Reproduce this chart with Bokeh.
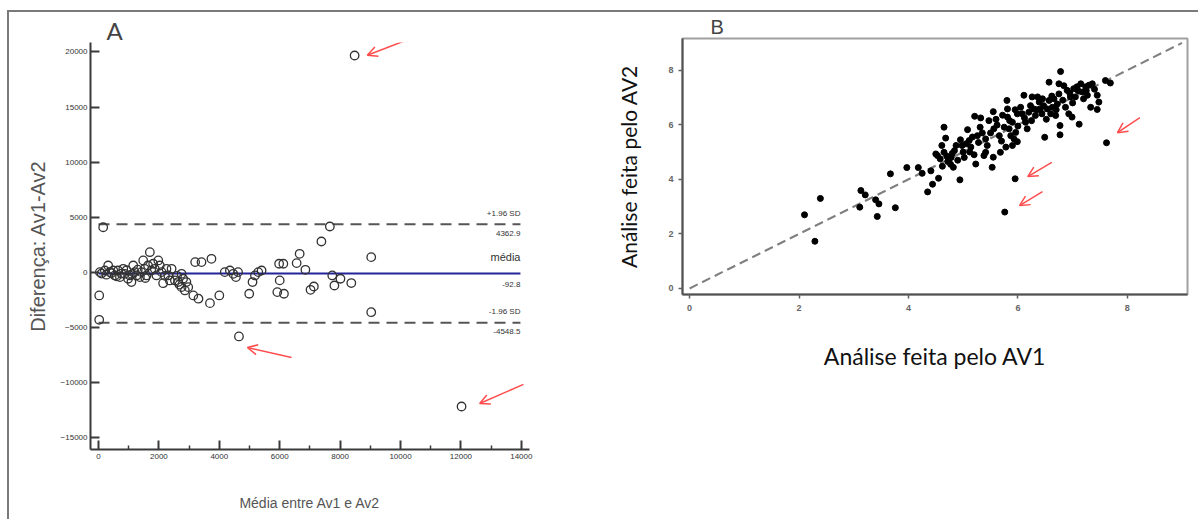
from bokeh.plotting import figure
from bokeh.layouts import row, column
from bokeh.models import Range1d, FixedTicker, Arrow, OpenHead
from bokeh.core.properties import value
from bokeh.embed import file_html
from bokeh.resources import INLINE

# ---------------- Panel A (Bland-Altman) data ----------------
media_av = [155, 23, 23, 45, 210, 320, 370, 490, 540, 650, 710, 820, 870, 980, 1040, 1090,
            1150, 1200, 1260, 1370, 1420, 1480, 1530, 1590, 1640, 1700, 1750, 1810, 1860,
            1920, 1980, 2030, 2090, 2140, 2250, 2310, 2360, 2420, 2530, 2640, 2750, 2800,
            2750, 2860, 2910, 2970, 3140, 3310, 3200, 3410, 3690, 3740, 4000, 4180, 4350,
            4460, 4550, 4620, 4650, 4990, 5100, 5180, 5290, 5400, 5920, 5980, 6000, 6120,
            6140, 6560, 6660, 6850, 7020, 7130, 7380, 7660, 7740, 7810, 8010, 8370, 9030,
            9030, 8480, 12020, 100, 260, 430, 600, 760, 930, 1110, 1300, 1550, 2200, 2600, 2680]
diferenca = [4100, -2080, -4290, 30, 180, 630, 30, 180, -270, 180, -420, 330, -120, -570, -270,
             -870, 630, 30, -270, -420, 30, 1090, 330, -270, 630, 1840, 180, 790, 330, -270,
             1090, 630, 30, -970, 330, -270, -720, 330, -720, -870, -120, -570, -1330, -1630,
             -870, -1330, -2080, -2380, 940, 940, -2780, 1240, -2080, 30, 180, -120, -420, 30,
             -5800, -1930, -870, -270, 30, 180, -1780, 790, -720, 790, -1930, 850, 1690, 240,
             -1570, -1270, 2810, 4170, -270, -1180, -570, -960, 1390, -3600, 19670, -12150,
             -100, -200, -50, -350, -100, 200, -150, 250, -500, -300, -300, -1100]
media_dif = -92.8
lim_sup = 4362.9
lim_inf = -4548.5
linha_x = [0, 13970]
a_xticks = [0, 2000, 4000, 6000, 8000, 10000, 12000, 14000]
a_xminor = [1000, 3000, 5000, 7000, 9000, 11000, 13000]
a_yticks = [-15000, -10000, -5000, 0, 5000, 10000, 15000, 20000]
# arrows (tail x, tail y, head x, head y) in data units
a_arrows = [(10330, 21200, 8900, 19700), (6390, -7710, 4930, -6800), (14070, -10150, 12620, -11880)]

# ---------------- Panel B (AV1 vs AV2) data ----------------
av1 = [2.10, 2.39, 2.29, 3.13, 3.21, 3.11, 3.40, 3.46, 3.43, 3.67, 3.76, 3.97, 4.18, 4.25, 4.41,
       4.44, 4.35, 4.55, 4.62, 4.82, 4.94,
       4.50, 4.65, 4.68, 4.61, 4.65, 4.70, 4.74, 4.78, 4.72, 4.80, 4.84, 4.53, 4.77, 4.87, 4.98,
       5.08, 5.11, 5.14, 5.20, 5.23, 5.21, 5.32, 5.31, 5.26, 5.35, 5.41, 5.44, 5.41, 5.38, 5.53,
       5.55, 5.68, 5.47, 5.55, 5.56, 5.62, 5.66, 5.75, 5.81, 5.81, 5.84, 5.87, 5.90, 5.93, 5.96,
       5.99, 5.99, 5.90, 5.80, 5.78, 6.05, 6.08, 6.11, 6.14, 6.17, 6.20, 6.23, 6.26, 6.29, 6.32,
       6.36, 6.39, 6.41, 6.44, 6.47, 6.49, 6.54, 6.57, 6.60, 6.63, 6.66, 6.69, 6.72, 6.75, 6.77,
       6.77, 6.78, 6.57, 6.75, 6.84, 6.87, 6.90, 6.93, 6.96, 6.99, 7.02, 7.05, 7.08, 7.12, 7.15,
       7.18, 7.20, 7.24, 7.27, 7.33, 7.36, 7.45, 7.45, 7.48, 7.60, 7.69, 7.62, 5.95, 5.76,
       5.00, 5.05, 5.17, 5.28, 5.50, 5.60, 5.70, 5.72, 5.85, 5.95, 6.00, 6.12, 6.25, 6.35, 6.45,
       6.52, 6.62, 6.70, 6.82, 6.95, 7.00, 7.10, 7.25, 7.30, 7.40, 4.58, 4.90, 4.95, 5.02, 5.12]
av2 = [2.70, 3.30, 1.73, 3.59, 3.43, 2.98, 3.25, 3.10, 2.64, 4.20, 2.96, 4.43, 4.43, 4.22, 4.31,
       3.82, 3.54, 4.04, 4.48, 4.44, 3.98,
       4.93, 5.91, 5.51, 5.24, 4.99, 4.85, 4.75, 4.80, 4.65, 4.95, 5.05, 4.87, 4.55, 5.24, 5.24,
       5.82, 5.42, 5.18, 4.90, 4.56, 6.31, 6.25, 5.91, 5.60, 5.70, 5.48, 5.24, 4.99, 4.87, 4.44,
       4.81, 4.99, 6.15, 6.48, 5.85, 5.99, 5.60, 5.91, 6.58, 6.28, 5.85, 5.60, 6.09, 5.48, 5.72,
       5.38, 6.40, 5.24, 6.89, 5.18, 6.64, 6.40, 7.08, 6.09, 5.85, 6.46, 6.70, 7.02, 6.58, 6.34,
       7.02, 6.83, 6.58, 6.40, 6.70, 5.54, 6.58, 6.89, 6.40, 6.64, 6.95, 6.34, 6.76, 7.13, 5.97,
       5.63, 7.95, 7.56, 7.50, 7.43, 6.64, 7.26, 6.40, 7.02, 6.28, 7.32, 7.02, 7.39, 6.02, 7.50,
       7.20, 6.95, 7.39, 7.08, 6.64, 7.50, 7.08, 6.56, 6.83, 7.62, 7.53, 5.34, 4.02, 2.80,
       5.00, 5.30, 5.55, 5.35, 5.70, 6.20, 5.40, 6.35, 6.15, 6.55, 5.95, 6.25, 6.15, 6.55, 6.95,
       6.20, 7.05, 6.55, 6.90, 7.15, 6.80, 7.25, 7.25, 7.45, 7.30, 4.75, 4.70, 5.45, 4.80, 5.00]
ident = [0, 9.0]
b_ticks = [0, 2, 4, 6, 8]
b_arrows = [(8.23, 6.26, 7.82, 5.71), (6.62, 4.62, 6.18, 4.10), (6.45, 3.55, 6.03, 3.04)]

RED = "#ff4d4d"
GRAY_TXT = "#555555"
SANS = "Liberation Sans"

# ================= Panel A =================
pA = figure(width=591, height=507, output_backend="svg", toolbar_location=None,
            x_range=Range1d(-265, 14270), y_range=Range1d(-16050, 20850),
            min_border_left=81, min_border_right=71, min_border_top=30, min_border_bottom=70)
pA.outline_line_color = None
pA.grid.grid_line_color = None

pA.xaxis.ticker = FixedTicker(ticks=a_xticks, minor_ticks=a_xminor)
pA.yaxis.ticker = FixedTicker(ticks=a_yticks, minor_ticks=[])
for ax in (pA.xaxis[0], pA.yaxis[0]):
    ax.axis_line_color = "#3a3a3a"
    ax.axis_line_width = 2
    ax.major_tick_line_color = "#3a3a3a"
    ax.major_tick_line_width = 2
    ax.major_tick_in = 9
    ax.major_tick_out = 0
    ax.minor_tick_line_color = "#3a3a3a"
    ax.minor_tick_line_width = 1.5
    ax.minor_tick_in = 4
    ax.minor_tick_out = 0
    ax.major_label_text_font = SANS
    ax.major_label_text_font_size = "8px"
    ax.major_label_text_color = "#333333"
    ax.axis_label_text_font = SANS
    ax.axis_label_text_font_style = "normal"
    ax.axis_label_text_color = GRAY_TXT
pA.yaxis.axis_label_text_font_size = "20px"
pA.xaxis.axis_label_text_font_size = "14px"
pA.yaxis.major_label_standoff = 3
pA.xaxis.major_label_standoff = 4
pA.yaxis.axis_label = "Diferença: Av1-Av2"
pA.xaxis.axis_label = "Média entre Av1 e Av2"
pA.yaxis.axis_label_standoff = 9
pA.xaxis.axis_label_standoff = 33

pA.title.text = "A"
pA.title.text_font = "Lato"
pA.title.text_font_style = "normal"
pA.title.text_font_size = "24px"
pA.title.align = "left"
pA.title.offset = 16
pA.title.standoff = -4

pA.line(linha_x, [lim_sup, lim_sup], line_color="#555555", line_width=2, line_dash="11 7")
pA.line(linha_x, [lim_inf, lim_inf], line_color="#555555", line_width=2, line_dash="11 7")
pA.line(linha_x, [media_dif, media_dif], line_color="#23239a", line_width=2)
pA.scatter(media_av, diferenca, size=8.5, marker="circle", fill_color=None,
           line_color="#333333", line_width=1.3)

lab_x = linha_x[1]
pA.text([lab_x, lab_x], [lim_sup, lim_sup], text=["+1.96 SD", f"{lim_sup}"],
        y_offset=[-11, 9], text_align="right", text_baseline="middle",
        text_font=value(SANS), text_font_size="8px", text_color="#333333")
pA.text([lab_x, lab_x], [lim_inf, lim_inf], text=["-1.96 SD", f"{lim_inf}"],
        y_offset=[-11, 9], text_align="right", text_baseline="middle",
        text_font=value(SANS), text_font_size="8px", text_color="#333333")
pA.text([lab_x], [media_dif], text=["média"], y_offset=[-16],
        text_align="right", text_baseline="middle",
        text_font=value(SANS), text_font_size="11px", text_color="#333333")
pA.text([lab_x], [media_dif], text=[f"{media_dif}"], y_offset=[11],
        text_align="right", text_baseline="middle",
        text_font=value(SANS), text_font_size="8px", text_color="#333333")

for (x0, y0, x1, y1) in a_arrows:
    pA.add_layout(Arrow(end=OpenHead(size=10, line_color=RED, line_width=1.5),
                        x_start=x0, y_start=y0, x_end=x1, y_end=y1,
                        line_color=RED, line_width=1.5))

# ================= Panel B =================
pB = figure(width=598, height=507, output_backend="svg", toolbar_location=None,
            x_range=Range1d(-0.13, 9.1), y_range=Range1d(-0.22, 9.16),
            min_border_left=82, min_border_right=11, min_border_top=26, min_border_bottom=225)
pB.grid.grid_line_color = None
pB.outline_line_color = "#a0a0a0"
pB.outline_line_width = 2
pB.xaxis.ticker = FixedTicker(ticks=b_ticks, minor_ticks=[])
pB.yaxis.ticker = FixedTicker(ticks=b_ticks, minor_ticks=[])
for ax in (pB.xaxis[0], pB.yaxis[0]):
    ax.axis_line_color = "#505050"
    ax.axis_line_width = 2
    ax.major_tick_line_color = "#606060"
    ax.major_tick_line_width = 1.5
    ax.major_tick_in = 0
    ax.major_tick_out = 4
    ax.major_label_text_font = SANS
    ax.major_label_text_font_style = "bold"
    ax.major_label_text_font_size = "9px"
    ax.major_label_text_color = "#666666"
    ax.axis_label_text_font = "Lato"
    ax.axis_label_text_font_style = "normal"
    ax.axis_label_text_color = "#111111"
pB.xaxis.axis_label_text_font_size = "23px"
pB.yaxis.axis_label_text_font_size = "21px"
pB.xaxis.major_label_standoff = 6
pB.yaxis.major_label_standoff = 5
pB.yaxis.axis_label = "Análise feita pelo AV2"
pB.xaxis.axis_label = "Análise feita pelo AV1"
pB.yaxis.axis_label_standoff = 24
pB.xaxis.axis_label_standoff = 28

pB.title.text = "B"
pB.title.text_font = "Liberation Sans"
pB.title.text_font_style = "normal"
pB.title.text_font_size = "20px"
pB.title.align = "left"
pB.title.offset = 28
pB.title.standoff = 2

pB.line(ident, ident, line_color="#808080", line_width=2, line_dash="9 5")
pB.scatter(av1, av2, size=6, marker="circle", fill_color="black", line_color="black")

for (x0, y0, x1, y1) in b_arrows:
    pB.add_layout(Arrow(end=OpenHead(size=10, line_color=RED, line_width=1.5),
                        x_start=x0, y_start=y0, x_end=x1, y_end=y1,
                        line_color=RED, line_width=1.5))

layout = row(column(pA), column(pB), margin=(10, 0, 0, 7),
             styles={"border-top": "2px solid #7a7a7a", "border-left": "2px solid #7a7a7a"})
open("out.html", "w").write(file_html(layout, INLINE))
